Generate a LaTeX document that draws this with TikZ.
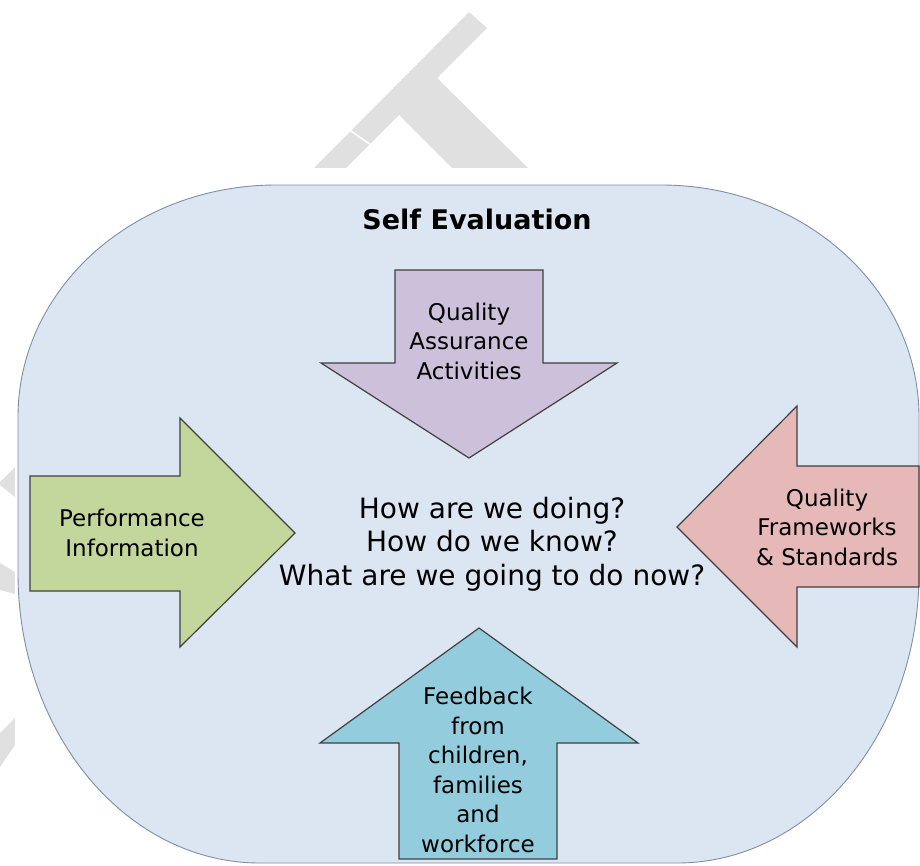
\documentclass[tikz,border=0pt]{standalone}
\usepackage{fontspec}
\setmainfont{DejaVu Sans}
\usepackage{tikz}
\usetikzlibrary{calc,positioning}
\usepackage{xcolor}
\definecolor{sfondo}{HTML}{DCE6F2}
\definecolor{bordo}{HTML}{7F8FA6}
\definecolor{viola}{HTML}{CCC0DA}
\definecolor{verde}{HTML}{C3D69B}
\definecolor{rosa}{HTML}{E6B9B8}
\definecolor{azzurro}{HTML}{93CDDD}
\definecolor{filigrana}{HTML}{E0E0E0}

\begin{document}
\begin{tikzpicture}[x=1pt, y=-1pt,
  freccia/.style={draw=black!75, line width=1.2pt, line join=miter},
  testo/.style={align=center, inner sep=0pt, font=\fontsize{23}{29.5}\selectfont}]
\useasboundingbox (0,0) rectangle (920,865);
% filigrana (DRAFT) dietro lo schema
\fill[filigrana] (314,168) -- (469,12) -- (487,28) -- (437,78) -- (528,168) -- (452,168) -- (399,115) -- (346,168) -- cycle;
\draw[white, line width=1.5pt] (351,131) -- (371,145);
\fill[filigrana] (15,467) -- (0,482) -- (0,485) -- (15,497) -- cycle;
\fill[filigrana] (0,563) -- (15,572) -- (15,594) -- (0,590) -- cycle;
\fill[filigrana] (0,733) -- (15,718) -- (15,745) -- (0,767) -- cycle;
\fill[white] (15,168) rectangle (920,865);
% contorno Self Evaluation
\filldraw[fill=sfondo, draw=bordo, line width=0.9pt] (276,185) -- (661,185)
  arc[start angle=-90, end angle=0, x radius=258, y radius=232] -- (919,573)
  arc[start angle=0, end angle=90, x radius=242, y radius=290] -- (260,863)
  arc[start angle=90, end angle=180, x radius=242, y radius=290] -- (18,417)
  arc[start angle=180, end angle=270, x radius=258, y radius=232] -- cycle;
\node[font=\bfseries\fontsize{27}{30}\selectfont] (titolo) at (477,219) {Self Evaluation};
% freccia dall'alto (viola)
\filldraw[freccia, fill=viola] (395,270) -- (543,270) -- (543,363) -- (617,363) -- (469,458) -- (321,363) -- (395,363) -- cycle;
\node[testo] (qa) at (469,341) {Quality\\Assurance\\Activities};
% freccia da sinistra (verde)
\filldraw[freccia, fill=verde] (30,476) -- (180,476) -- (180,418) -- (295,533) -- (180,647) -- (180,591) -- (30,591) -- cycle;
\node[testo] (perf) at (132,533) {Performance\\Information};
% freccia da destra (rosa)
\filldraw[freccia, fill=rosa] (919,466) -- (797,466) -- (797,406) -- (677,527) -- (797,647) -- (797,587) -- (919,587) -- cycle;
\node[testo] (qf) at (827,527) {Quality\\Frameworks\\\& Standards};
% freccia dal basso (azzurra)
\filldraw[freccia, fill=azzurro] (399,859) -- (399,743) -- (320,743) -- (479,628) -- (638,743) -- (557,743) -- (557,859) -- cycle;
\node[testo] (fb) at (478,770) {Feedback\\from\\children,\\families\\and\\workforce};
% domande al centro
\node[align=center, inner sep=0pt, font=\fontsize{28}{33.5}\selectfont] (domande) at (492,544)
  {How are we doing?\\How do we know?\\What are we going to do now?};
\end{tikzpicture}
\end{document}
